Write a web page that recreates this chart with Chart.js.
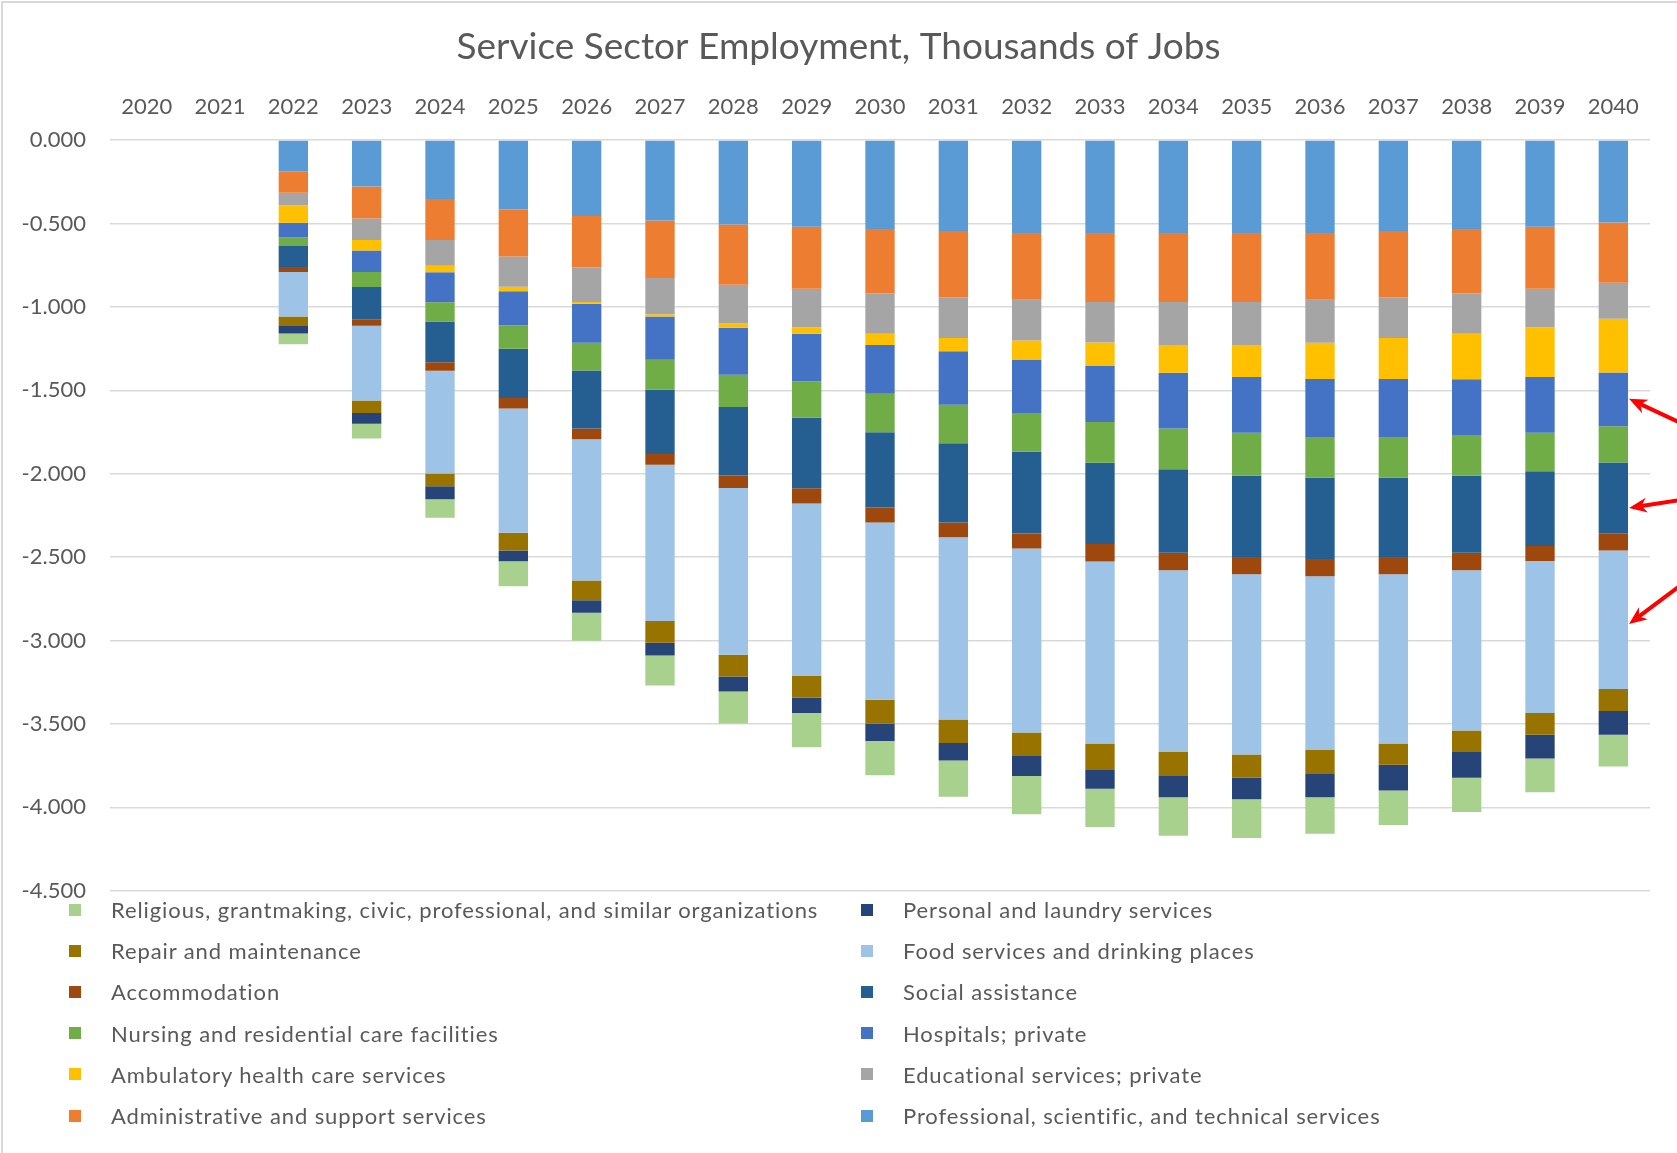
<!DOCTYPE html>
<html>
<head>
<meta charset="utf-8">
<title>Service Sector Employment</title>
<script src="https://cdn.jsdelivr.net/npm/chart.js@4.4.1/dist/chart.umd.min.js"></script>
<style>
  html, body { margin: 0; padding: 0; background: #fff; }
  #wrap { position: relative; width: 1677px; height: 1153px; overflow: hidden; }
  #frame { position: absolute; left: 1px; top: 1px; right: -10px; bottom: -10px;
           border-left: 2px solid #d9d9d9; border-top: 2px solid #d9d9d9; }
  #chart { position: absolute; left: 0; top: 0; }
  #legend { position: absolute; left: 69px; top: 889px; display: grid;
            grid-template-columns: 792px auto; grid-auto-rows: 41.2px;
            font-family: Lato, sans-serif; font-size: 22px; letter-spacing: 0.9px; color: #595959; }
  .item { display: flex; align-items: center; white-space: nowrap; }
  .box { width: 12px; height: 12px; margin-right: 30px; flex: none; }
</style>
</head>
<body>
<div id="wrap">
  <div id="frame"></div>
  <canvas id="chart" width="1677" height="928"></canvas>
  <div id="legend"></div>
</div>
<script>
// years on the category axis (2020 and 2021 have no bars)
const years = ['2020', '2021', '2022', '2023', '2024', '2025', '2026', '2027', '2028', '2029',
               '2030', '2031', '2032', '2033', '2034', '2035', '2036', '2037', '2038', '2039', '2040'];

// thousands of jobs (stack order from 0 downwards)
const professional  = [null, null, -0.188, -0.278, -0.353, -0.417, -0.456, -0.483, -0.507, -0.520, -0.533, -0.545, -0.558, -0.558, -0.558, -0.558, -0.558, -0.545, -0.533, -0.520, -0.494];
const administrative = [null, null, -0.128, -0.193, -0.246, -0.282, -0.308, -0.344, -0.361, -0.372, -0.387, -0.398, -0.400, -0.413, -0.413, -0.413, -0.400, -0.398, -0.387, -0.372, -0.361];
const educational   = [null, null, -0.075, -0.128, -0.154, -0.180, -0.207, -0.218, -0.231, -0.231, -0.242, -0.244, -0.244, -0.242, -0.257, -0.257, -0.257, -0.244, -0.242, -0.231, -0.216];
const ambulatory    = [null, null, -0.105, -0.064, -0.039, -0.028, -0.011, -0.013, -0.026, -0.039, -0.066, -0.079, -0.116, -0.141, -0.167, -0.193, -0.218, -0.246, -0.272, -0.297, -0.323];
const hospitals     = [null, null, -0.088, -0.128, -0.180, -0.203, -0.233, -0.259, -0.282, -0.284, -0.293, -0.321, -0.319, -0.336, -0.334, -0.334, -0.347, -0.347, -0.334, -0.334, -0.321];
const nursing       = [null, null, -0.051, -0.090, -0.116, -0.141, -0.167, -0.180, -0.193, -0.218, -0.231, -0.231, -0.231, -0.244, -0.244, -0.257, -0.244, -0.244, -0.244, -0.231, -0.218];
const social        = [null, null, -0.126, -0.193, -0.244, -0.295, -0.347, -0.385, -0.411, -0.424, -0.451, -0.475, -0.490, -0.488, -0.501, -0.488, -0.488, -0.475, -0.462, -0.449, -0.424];
const accommodation = [null, null, -0.030, -0.039, -0.051, -0.064, -0.064, -0.064, -0.075, -0.090, -0.090, -0.088, -0.090, -0.105, -0.105, -0.103, -0.103, -0.103, -0.105, -0.090, -0.103];
const foodServices  = [null, null, -0.267, -0.449, -0.616, -0.744, -0.847, -0.937, -0.999, -1.035, -1.062, -1.093, -1.103, -1.090, -1.089, -1.080, -1.041, -1.015, -0.960, -0.910, -0.831];
const repair        = [null, null, -0.053, -0.075, -0.077, -0.107, -0.118, -0.130, -0.131, -0.130, -0.143, -0.140, -0.141, -0.155, -0.140, -0.140, -0.140, -0.127, -0.129, -0.130, -0.131];
const personal      = [null, null, -0.049, -0.064, -0.077, -0.064, -0.075, -0.076, -0.090, -0.091, -0.104, -0.105, -0.120, -0.116, -0.131, -0.129, -0.143, -0.155, -0.154, -0.143, -0.142];
const religious     = [null, null, -0.064, -0.088, -0.111, -0.150, -0.169, -0.181, -0.191, -0.205, -0.205, -0.217, -0.229, -0.229, -0.231, -0.231, -0.219, -0.206, -0.205, -0.203, -0.191];

const seriesNames = [
    'Professional, scientific, and technical services',
    'Administrative and support services',
    'Educational services; private',
    'Ambulatory health care services',
    'Hospitals; private',
    'Nursing and residential care facilities',
    'Social assistance',
    'Accommodation',
    'Food services and drinking places',
    'Repair and maintenance',
    'Personal and laundry services',
    'Religious, grantmaking, civic, professional, and similar organizations'
];
const seriesValues = [professional, administrative, educational, ambulatory, hospitals, nursing,
                      social, accommodation, foodServices, repair, personal, religious];
const seriesColors = ['#5B9BD5', '#ED7D31', '#A5A5A5', '#FFC000', '#4472C4', '#70AD47',
                      '#255E91', '#9E480E', '#9DC3E6', '#997300', '#264478', '#A9D18E'];

// red call-out arrows on the 2040 bar: which series, where the tip points, and the tail direction
const arrowNotes = [
    { series: 4, value: -1.551, dx: 49, dy: 23 },
    { series: 6, value: -2.205, dx: 49, dy: -7.5 },
    { series: 8, value: -2.901, dx: 47.5, dy: -35.6 }
];

const grey = '#595959';

const arrowPlugin = {
    id: 'arrowNotes',
    afterDraw(chart) {
        const ctx = chart.ctx;
        const yScale = chart.scales.y;
        const last = years.length - 1;
        ctx.save();
        ctx.strokeStyle = '#FF0000';
        ctx.fillStyle = '#FF0000';
        ctx.lineWidth = 4;
        arrowNotes.forEach(function(a) {
            const bar = chart.getDatasetMeta(a.series).data[last];
            const tipX = bar.x + bar.width / 2 + 1;
            const tipY = yScale.getPixelForValue(a.value);
            const len = Math.hypot(a.dx, a.dy);
            const ux = a.dx / len, uy = a.dy / len;
            const px = -uy, py = ux;
            const head = 18, half = 7.5;
            ctx.beginPath();
            ctx.moveTo(tipX + ux * head * 0.7, tipY + uy * head * 0.7);
            ctx.lineTo(tipX + ux * 200, tipY + uy * 200);
            ctx.stroke();
            ctx.beginPath();
            ctx.moveTo(tipX, tipY);
            ctx.lineTo(tipX + ux * head + px * half, tipY + uy * head + py * half);
            ctx.lineTo(tipX + ux * head * 0.7, tipY + uy * head * 0.7);
            ctx.lineTo(tipX + ux * head - px * half, tipY + uy * head - py * half);
            ctx.closePath();
            ctx.fill();
        });
        ctx.restore();
    }
};

Chart.defaults.font.family = 'Lato, sans-serif';
Chart.defaults.color = grey;

const chart = new Chart(document.getElementById('chart'), {
    type: 'bar',
    data: {
        labels: years,
        datasets: seriesNames.map(function(name, i) {
            return {
                label: name,
                data: seriesValues[i],
                backgroundColor: seriesColors[i],
                borderWidth: 0,
                categoryPercentage: 1,
                barPercentage: 0.4
            };
        })
    },
    options: {
        responsive: false,
        animation: false,
        layout: { padding: { left: 0, right: 0, top: 0, bottom: 12 } },
        plugins: {
            legend: { display: false },
            tooltip: { enabled: false },
            title: {
                display: true,
                text: 'Service Sector Employment, Thousands of Jobs',
                color: grey,
                font: { size: 37, weight: 'normal' },
                padding: { top: 24.8, bottom: 10.8 }
            }
        },
        scales: {
            x: {
                position: 'top',
                stacked: true,
                grid: { display: false, drawTicks: false },
                border: { display: false },
                ticks: { font: { size: 22 }, color: grey, padding: 20, maxRotation: 0 },
                afterFit: function(scale) { scale.height = 60; }
            },
            y: {
                stacked: true,
                min: -4.5,
                max: 0,
                grid: { color: '#D9D9D9', lineWidth: 1.5, drawTicks: false },
                border: { display: false },
                ticks: {
                    stepSize: 0.5,
                    font: { size: 22 },
                    color: grey,
                    padding: 24,
                    callback: function(v) { return v.toFixed(3); }
                },
                afterFit: function(scale) { scale.width = 110; }
            },
            // empty right-hand margin so the title stays centred on the whole picture
            yRight: {
                position: 'right',
                min: -4.5,
                max: 0,
                grid: { display: false, drawTicks: false },
                border: { display: false },
                ticks: { display: false },
                afterFit: function(scale) { scale.width = 27; }
            }
        }
    },
    plugins: [arrowPlugin]
});

// two-column legend, same reading order as the original (reverse of the stack)
const legendBox = document.getElementById('legend');
for (let i = seriesNames.length - 1; i >= 0; i--) {
    const item = document.createElement('div');
    item.className = 'item';
    const box = document.createElement('span');
    box.className = 'box';
    box.style.background = seriesColors[i];
    const txt = document.createElement('span');
    txt.textContent = seriesNames[i];
    item.appendChild(box);
    item.appendChild(txt);
    legendBox.appendChild(item);
}
</script>
</body>
</html>
